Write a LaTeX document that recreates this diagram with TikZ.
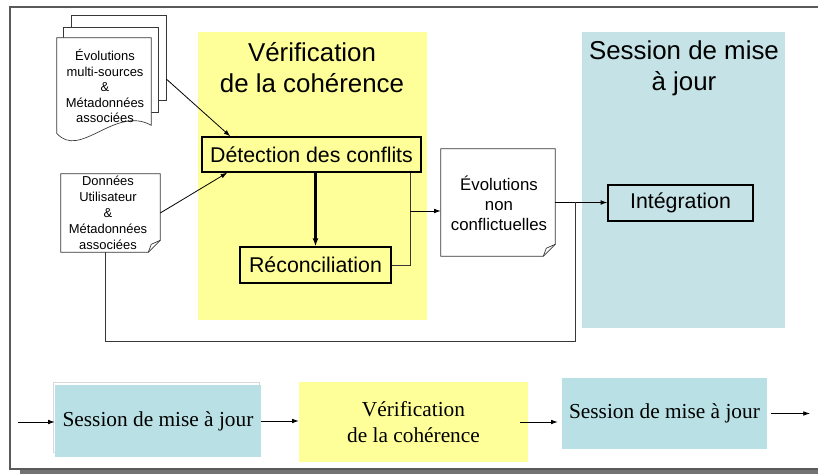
\documentclass[tikz,border=0pt]{standalone}
\usepackage{fontspec}
\setmainfont{Liberation Sans}
\newfontfamily\timesfont{Liberation Serif}
\usetikzlibrary{arrows.meta, positioning, calc}
\definecolor{zoneyellow}{RGB}{255,255,153}
\definecolor{zoneteal}{RGB}{197,227,230}
\definecolor{boxteal}{RGB}{185,224,228}
\definecolor{linegray}{RGB}{55,55,55}
\definecolor{framegray}{RGB}{90,90,90}
\tikzset{
  zone/.style={rectangle, draw=none, anchor=north west, inner sep=0pt},
  ztitle/.style={align=center, font=\fontsize{19.4}{23.3}\selectfont},
  stage/.style={rectangle, draw=black, line width=1pt,
    font=\fontsize{16}{19}\selectfont, inner sep=0pt},
  docnode/.style={rectangle, draw=none, align=center, inner sep=0pt},
  docline/.style={draw=linegray, fill=white, line width=0.5pt},
  flowbox/.style={rectangle, align=center, inner sep=0pt,
    font=\timesfont\fontsize{16}{19.5}\selectfont},
  arrow/.style={-{Latex[length=5pt,width=3.5pt]}, line width=0.6pt, color=black},
  line/.style={line width=0.6pt, color=linegray}
}
\begin{document}
\begin{tikzpicture}[x=0.75pt, y=-0.75pt]
  \useasboundingbox (0,0) rectangle (818,474);
  \clip (0,0) rectangle (818,474);

  % frame and its shadow
  \fill[black!55] (20,470) rectangle (830,480);
  \draw[framegray, fill=white, line width=1.2pt] (10,7) rectangle (830,469);

  % the two zones
  \node[zone, fill=zoneyellow, minimum width=171.75pt, minimum height=216pt] (verif) at (198,32) {};
  \node[zone, fill=zoneteal, minimum width=152.25pt, minimum height=222pt] (sess) at (582,32) {};
  \node[ztitle] (veriftitle) at (312,68) {Vérification\\de la cohérence};
  \node[ztitle] (sesstitle) at (684,68) {Session de mise\\à jour};

  % stages
  \node[stage, fill=zoneyellow, minimum width=164.25pt, minimum height=26.25pt] (detect) at (311.5,154.5) {Détection des conflits};
  \node[stage, fill=zoneyellow, minimum width=113.25pt, minimum height=27pt] (recon) at (315.5,265) {Réconciliation};
  \node[stage, fill=zoneteal, minimum width=108.75pt, minimum height=27pt] (integ) at (680.5,203) {Intégration};

  % multi-source documents
  \node[docnode, minimum width=70.5pt, minimum height=63pt] (pg3) at (119,58) {};
  \node[docnode, minimum width=70.5pt, minimum height=63pt] (pg2) at (111,70) {};
  \node[docnode, minimum width=70.5pt, minimum height=75pt] (pg1) at (104,88) {};
  \draw[docline] (pg3.north west) rectangle (pg3.south east);
  \draw[docline] (pg2.north west) rectangle (pg2.south east);
  \draw[docline] (pg1.north west) -- (pg1.north east) -- ($(pg1.south east)+(0,-13)$)
    .. controls (115,105) and (80,160) .. ($(pg1.south west)+(0,-5)$) -- cycle;
  \node[align=center, font=\fontsize{9.7}{11.6}\selectfont] (mtxt) at (105,86)
    {Évolutions\\multi-sources\\\&\\Métadonnées\\associées};

  % user data document
  \node[docnode, minimum width=74.25pt, minimum height=58.5pt] (ud) at (110.5,213) {};
  \draw[docline] (ud.north west) -- (ud.north east) -- ($(ud.south east)+(0,-12)$)
    -- ($(ud.south east)+(-12,0)$) -- (ud.south west) -- cycle;
  \draw[line, line width=0.5pt] ($(ud.south east)+(-12,0)$) -- ($(ud.south east)+(-9,-8)$) -- ($(ud.south east)+(0,-12)$);
  \node[align=center, font=\fontsize{9.7}{12}\selectfont] (udtxt) at (108,213)
    {Données\\Utilisateur\\\&\\Métadonnées\\associées};

  % non conflicting evolutions document
  \node[docnode, minimum width=85.5pt, minimum height=80.25pt] (evol) at (498,202.5) {};
  \draw[docline] (evol.north west) -- (evol.north east) -- ($(evol.south east)+(0,-12)$)
    -- ($(evol.south east)+(-12,0)$) -- (evol.south west) -- cycle;
  \draw[line, line width=0.5pt] ($(evol.south east)+(-12,0)$) -- ($(evol.south east)+(-9,-8)$) -- ($(evol.south east)+(0,-12)$);
  \node[align=center, font=\fontsize{12.6}{15}\selectfont] (evoltxt) at (499,203)
    {Évolutions\\non\\conflictuelles};

  % connections
  \draw[arrow] ($(pg3.east)+(0,21)$) -- ($(detect.north west)+(29,0)$);
  \draw[arrow] (ud.east) -- ($(detect.south west)+(26,0)$);
  \draw[-{Latex[length=6pt,width=4.5pt]}, line width=1.6pt] (detect.south -| recon.north) -- (recon.north);
  \coordinate (jct) at (410,211);
  \draw[line] ($(detect.south east)+(-11,0)$) |- (recon.east);
  \draw[arrow] (jct) -- (jct -| evol.west);
  \draw[arrow] (evol.east) -- (evol.east -| integ.west);
  \coordinate (loop) at (575,341);
  \draw[line] ($(ud.south)+(-5,0)$) |- (loop) -- (loop |- evol.east);

  % process chain at the bottom
  \node[flowbox, draw=black!15, minimum width=154.5pt, minimum height=52.5pt] (s1bg) at (156,417) {};
  \node[flowbox, fill=boxteal, minimum width=154.5pt, minimum height=54pt] (s1) at (158,421) {Session de mise à jour};
  \node[flowbox, fill=zoneyellow, minimum width=171.75pt, minimum height=60pt] (v1) at (413.5,422) {Vérification\\de la cohérence};
  \node[flowbox, fill=boxteal, minimum width=153.75pt, minimum height=53.25pt] (s2) at (664.5,413.5) {Session de mise à jour};
  \coordinate (in) at (18,422);
  \coordinate (out) at (810,416);
  \draw[arrow] (in) -- (in -| s1.west);
  \draw[arrow] (s1.east) -- (s1.east -| v1.west);
  \draw[arrow, shorten >=3pt] ($(v1.east)+(-8,0)$) -- (v1.east -| s2.west);
  \draw[arrow, shorten <=3pt] (s2.east) -- (s2.east -| out);
\end{tikzpicture}
\end{document}
